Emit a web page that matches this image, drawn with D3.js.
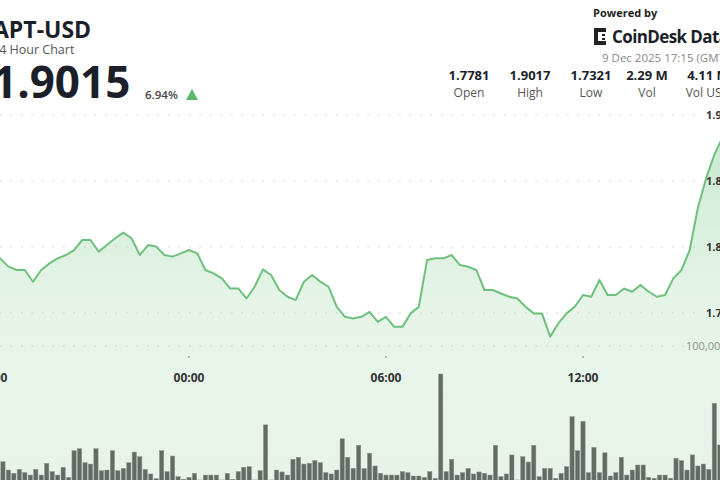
<!DOCTYPE html>
<html>
<head>
<meta charset="utf-8">
<script src="https://cdn.jsdelivr.net/npm/d3@7"></script>
<style>
  body { margin: 0; background: #fff; overflow: hidden; }
  svg { font-family: "Open Sans", "Noto Sans", sans-serif; display: block; }
</style>
</head>
<body>
<div id="chart"></div>
<script>
// price, 15 minute steps starting 8 Dec 17:15
const prices = [
  1.7781, 1.7830, 1.7880, 1.7935,
  1.7914, 1.7851, 1.7826, 1.7826, 1.7737, 1.7826, 1.7876, 1.7914, 1.7939, 1.7977,
  1.8053, 1.8053, 1.7965, 1.8015, 1.8066, 1.8109, 1.8066, 1.7939, 1.8015, 1.8003,
  1.7939, 1.7927, 1.7952, 1.7977, 1.7952, 1.7826, 1.7800, 1.7762, 1.7686, 1.7686,
  1.7610, 1.7699, 1.7831, 1.7788, 1.7674, 1.7623, 1.7598, 1.7737, 1.7788, 1.7737,
  1.7699, 1.7547, 1.7471, 1.7459, 1.7471, 1.7509, 1.7433, 1.7471, 1.7395, 1.7395,
  1.7497, 1.7547, 1.7901, 1.7914, 1.7914, 1.7939, 1.7863, 1.7851, 1.7826, 1.7674,
  1.7674, 1.7648, 1.7623, 1.7610, 1.7547, 1.7497, 1.7497, 1.7321, 1.7421, 1.7497,
  1.7547, 1.7636, 1.7623, 1.7750, 1.7636, 1.7636, 1.7686, 1.7661, 1.7712, 1.7661,
  1.7623, 1.7636, 1.7762, 1.7826,
  1.7977, 1.8300, 1.8520, 1.8700, 1.8830, 1.8920, 1.8980, 1.9010, 1.9015
];
// volume, 10 minute bars starting 8 Dec 18:20
const volumes = [
  14.9, 8.8, 6.4, 9.3, 6.9, 5.1, 9.3, 5.1, 13.7, 7.6, 5.1, 10.8, 3.4, 23, 24.5, 14.2,
  13.2, 24.5, 8.3, 8.8, 23, 8.3, 10, 14.2, 22, 18.6, 9.3, 5.9, 2.4, 23, 7.6, 19.1,
  3.9, 2, 3.4, 6.4, 1.5, 5.1, 5.1, 5.1, 1.5, 6.4, 2, 7.6, 10.8,
  11.3, 1.5, 8.3, 42, 1.5, 8.8, 7.4, 5.1, 16.7, 18.2, 13.2, 13.7, 15.7, 14.2, 6.9, 5.9,
  8.8, 31.8, 18.2, 10, 27, 9.8, 21.1, 11.8, 6.4, 5.1, 5.1, 5.1, 7.6, 6.9, 4.4, 4.4,
  3.4, 7.6, 2.7, 79.4, 7.6, 16.7, 5.1, 6.9, 10, 5.9, 7.4, 6.4, 5.1,
  27, 3.9, 5.9, 19.9, 1.5, 18.6, 14.7, 27, 3.9, 10, 10, 2.7, 6.4, 11.3, 48, 23,
  44.6, 6.9, 25.5, 6.9, 21.5, 4.4, 6.9, 18.2, 5.1, 8.8, 12.5, 12.5, 3.4, 2.7, 5.1, 5.1,
  2.7, 17.4, 15.7, 8.8, 19.9, 11.8, 13.2, 9.3, 57.9, 27.2, 49, 75.5,
  82, 60, 55, 48, 62, 40
].map(v => v * 1000);
const priceTicks = [1.75, 1.80, 1.85, 1.90];
const timeTicks = ["18:00", "00:00", "06:00", "12:00"];
const stats = [
  { value: "1.7781", label: "Open" },
  { value: "1.9017", label: "High" },
  { value: "1.7321", label: "Low" },
  { value: "2.29 M", label: "Vol" },
  { value: "4.11 M", label: "Vol USD" }
];

const W = 720, H = 480;
const t0 = new Date(2025, 11, 8, 17, 15);
const v0 = new Date(2025, 11, 8, 18, 20);
const priceData = prices.map((p, i) => ({ t: d3.timeMinute.offset(t0, i * 15), p }));
const volData = volumes.map((v, i) => ({ t: d3.timeMinute.offset(v0, i * 10), v }));

const svg = d3.select("#chart").append("svg").attr("width", W).attr("height", H);
const defs = svg.append("defs");

const x = d3.scaleTime()
  .domain([new Date(2025, 11, 8, 18, 0), new Date(2025, 11, 9, 18, 0)])
  .range([-8, 780]);
const y = d3.scaleLinear().domain([1.75, 1.90]).range([313, 115]);
const yv = d3.scaleLinear().domain([0, 100000]).range([482, 346]);

// background wash under the chart
const bg = defs.append("linearGradient").attr("id", "bg").attr("x1", 0).attr("y1", 0).attr("x2", 0).attr("y2", 1);
bg.append("stop").attr("offset", "0%").attr("stop-color", "#ffffff");
bg.append("stop").attr("offset", "100%").attr("stop-color", "#eaf4ea");
svg.append("rect").attr("x", 0).attr("y", 300).attr("width", W).attr("height", 180).attr("fill", "url(#bg)");

const ag = defs.append("linearGradient").attr("id", "area").attr("x1", 0).attr("y1", 0).attr("x2", 0).attr("y2", 1);
ag.append("stop").attr("offset", "0%").attr("stop-color", "#7cc98a").attr("stop-opacity", 0.45);
ag.append("stop").attr("offset", "60%").attr("stop-color", "#a9dbb1").attr("stop-opacity", 0.25);
ag.append("stop").attr("offset", "100%").attr("stop-color", "#dff0e0").attr("stop-opacity", 0.2);

svg.append("path").datum(priceData)
  .attr("fill", "url(#area)")
  .attr("d", d3.area().x(d => x(d.t)).y0(H).y1(d => y(d.p)));

// dotted grid
const dotted = (yy) => svg.append("line").attr("x1", 0).attr("x2", 700).attr("y1", yy).attr("y2", yy)
  .attr("stroke", "#c8cdc8").attr("stroke-width", 1.2).attr("stroke-dasharray", "1.5 9");
priceTicks.forEach(p => dotted(y(p)));
dotted(yv(100000));

svg.append("g").selectAll("text").data(priceTicks).join("text")
  .attr("x", 706).attr("y", d => y(d) + 4)
  .attr("font-size", 11).attr("font-weight", 700).attr("fill", "#333")
  .text(d => d.toFixed(2));
svg.append("text").attr("x", 686).attr("y", yv(100000) + 4)
  .attr("font-size", 11).attr("fill", "#8a938a").text("100,000");

// volume bars
const bw = (x(d3.timeMinute.offset(v0, 10)) - x(v0)) - 1.2;
svg.append("g").selectAll("rect").data(volData).join("rect")
  .attr("x", d => x(d.t) - bw / 2).attr("width", bw)
  .attr("y", d => yv(d.v)).attr("height", d => yv(0) - yv(d.v))
  .attr("fill", "#646a64").attr("stroke", "#8c928c").attr("stroke-width", 0.5);

// price line
svg.append("path").datum(priceData)
  .attr("fill", "none").attr("stroke", "#6fc07e").attr("stroke-width", 2).attr("stroke-linejoin", "round")
  .attr("d", d3.line().x(d => x(d.t)).y(d => y(d.p)));

// time axis
const tickDates = timeTicks.map((s, i) => d3.timeHour.offset(new Date(2025, 11, 8, 18, 0), i * 6));
svg.append("g").selectAll("circle").data(tickDates.slice(1)).join("circle")
  .attr("cx", d => x(d)).attr("cy", 357).attr("r", 0.8).attr("fill", "#777");
svg.append("g").selectAll("text").data(tickDates).join("text")
  .attr("x", d => x(d)).attr("y", 382).attr("text-anchor", "middle")
  .attr("font-size", 12).attr("font-weight", 700).attr("fill", "#333")
  .text((d, i) => timeTicks[i]);

// header left
svg.append("text").attr("x", -7).attr("y", 38).attr("font-size", 23).attr("font-weight", 700).attr("fill", "#1b1f2a").text("APT-USD");
svg.append("text").attr("x", -8).attr("y", 54).attr("font-size", 12.5).attr("fill", "#555").text("24 Hour Chart");
svg.append("text").attr("x", -8).attr("y", 98).attr("font-size", 44).attr("font-weight", 700).attr("fill", "#1b1f2a").text("1.9015");
svg.append("text").attr("x", 145).attr("y", 99).attr("font-size", 11.5).attr("font-weight", 600).attr("fill", "#444").text("6.94%");
svg.append("path").attr("d", "M186,100 L192,89 L198,100 Z").attr("fill", "#5bb76b");

// header right
svg.append("text").attr("x", 593).attr("y", 17).attr("font-size", 11).attr("font-weight", 700).attr("fill", "#222").text("Powered by");
const logo = svg.append("g").attr("transform", "translate(594,28)");
logo.append("rect").attr("width", 4).attr("height", 17).attr("fill", "#222");
logo.append("rect").attr("width", 12).attr("height", 4).attr("fill", "#222");
logo.append("rect").attr("y", 13).attr("width", 12).attr("height", 4).attr("fill", "#222");
logo.append("rect").attr("x", 8).attr("y", 6).attr("width", 3).attr("height", 2).attr("fill", "#222");
logo.append("rect").attr("x", 8).attr("y", 10).attr("width", 3).attr("height", 2).attr("fill", "#222");
svg.append("text").attr("x", 612).attr("y", 43).attr("font-size", 17).attr("font-weight", 700)
  .attr("letter-spacing", -0.6).attr("fill", "#1b1f2a").text("CoinDesk Data");
svg.append("text").attr("x", 602).attr("y", 62).attr("font-size", 11.5).attr("fill", "#888").text("9 Dec 2025 17:15 (GMT)");

const statX = [469, 530, 591, 647, 708];
const sg = svg.append("g").selectAll("g").data(stats).join("g")
  .attr("transform", (d, i) => `translate(${statX[i]},0)`);
sg.append("text").attr("y", 80).attr("text-anchor", "middle").attr("font-size", 13).attr("font-weight", 700).attr("fill", "#1b1f2a").text(d => d.value);
sg.append("text").attr("y", 97).attr("text-anchor", "middle").attr("font-size", 12).attr("fill", "#555").text(d => d.label);
</script>
</body>
</html>
